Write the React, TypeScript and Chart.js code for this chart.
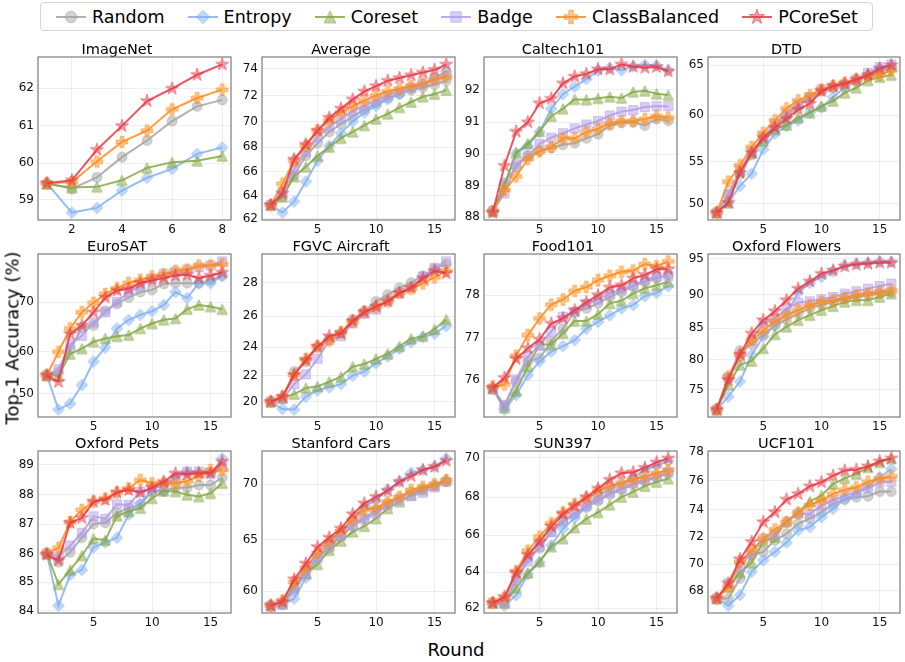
import React, { useEffect, useRef } from 'react';
import { Chart, registerables, LinearScale } from 'chart.js';

Chart.register(...registerables);

// Square ("power 2") value axis, as in the reference figure
class SquareScale extends LinearScale {
  static id = 'square';
  static defaults = {};
  getPixelForValue(value: any) {
    if (value === null || value === undefined || isNaN(value)) return NaN;
    const a = this.min * this.min;
    const b = this.max * this.max;
    return this.getPixelForDecimal((value * value - a) / (b - a));
  }
  getValueForPixel(pixel: number) {
    const a = this.min * this.min;
    const b = this.max * this.max;
    return Math.sqrt(a + this.getDecimalForPixel(pixel) * (b - a));
  }
}
Chart.register(SquareScale as any);

// ---------------- DATA ----------------
const METHODS = ['Random', 'Entropy', 'Coreset', 'Badge', 'ClassBalanced', 'PCoreSet'];
const ROUNDS_8 = [1, 2, 3, 4, 5, 6, 7, 8];
const ROUNDS_16 = [1, 2, 3, 4, 5, 6, 7, 8, 9, 10, 11, 12, 13, 14, 15, 16];
const XTICKS_8 = [2, 4, 6, 8];
const XTICKS_16 = [5, 10, 15];

// order of each list: Random, Entropy, Coreset, Badge, ClassBalanced, PCoreSet
const IMAGENET = [
  [59.45, 59.3, 59.61, 60.16, 60.61, 61.13, 61.52, 61.69],
  [59.45, 58.64, 58.77, 59.25, 59.6, 59.84, 60.25, 60.42],
  [59.43, 59.33, 59.35, 59.53, 59.87, 60.02, 60.06, 60.19],
  null,
  [59.45, 59.48, 60.04, 60.57, 60.87, 61.44, 61.74, 61.96],
  [59.45, 59.53, 60.36, 61.0, 61.66, 61.99, 62.35, 62.62],
];
const AVERAGE = [
  [63.2, 63.9, 65.7, 67.3, 68.3, 69.2, 69.8, 70.4, 70.9, 71.4, 71.8, 72.1, 72.4, 72.6, 72.8, 73.1],
  [63.2, 62.55, 63.5, 65.2, 66.9, 68.1, 69.1, 70.0, 70.7, 71.2, 71.7, 72.1, 72.5, 72.8, 73.3, 73.8],
  [63.2, 63.9, 65.6, 66.4, 67.3, 68.0, 68.7, 69.2, 69.7, 70.2, 70.6, 71.1, 71.5, 71.9, 72.1, 72.4],
  [63.2, 64.3, 66.2, 67.6, 68.8, 69.6, 70.2, 70.8, 71.2, 71.6, 72.0, 72.3, 72.6, 72.9, 73.2, 73.5],
  [63.2, 65.0, 66.9, 68.1, 69.3, 70.1, 70.7, 71.2, 71.6, 72.0, 72.3, 72.5, 72.7, 72.9, 73.2, 73.4],
  [63.2, 64.2, 67.0, 68.2, 69.3, 70.3, 71.0, 71.7, 72.3, 72.7, 73.1, 73.3, 73.5, 73.7, 73.9, 74.3],
];
const CALTECH101 = [
  [88.2, 89.1, 89.6, 89.95, 90.1, 90.2, 90.3, 90.35, 90.5, 90.63, 90.9, 90.98, 91.0, 90.9, 91.1, 91.05],
  [88.2, 89.05, 90.03, 90.26, 90.7, 91.42, 91.87, 92.1, 92.33, 92.59, 92.67, 92.6, 92.72, 92.77, 92.75, 92.6],
  [88.2, 89.0, 90.05, 90.34, 90.72, 91.19, 91.42, 91.71, 91.7, 91.74, 91.79, 91.75, 91.94, 91.97, 91.88, 91.84],
  [88.2, 88.76, 89.69, 89.95, 90.33, 90.52, 90.66, 90.81, 90.93, 91.04, 91.21, 91.33, 91.38, 91.47, 91.5, 91.5],
  [88.2, 88.87, 89.3, 89.85, 90.09, 90.23, 90.5, 90.5, 90.7, 90.8, 90.97, 91.03, 91.04, 91.1, 91.19, 91.15],
  [88.15, 89.64, 90.71, 91.0, 91.59, 91.73, 92.2, 92.41, 92.49, 92.63, 92.63, 92.78, 92.71, 92.68, 92.7, 92.57],
];
const DTD = [
  [48.85, 51.1, 53.51, 55.72, 57.45, 58.88, 59.92, 60.96, 61.8, 62.47, 62.8, 63.13, 63.46, 63.95, 64.44, 64.69],
  [48.85, 50.1, 52.14, 53.59, 56.35, 58.06, 58.88, 59.47, 60.27, 60.79, 61.87, 62.8, 63.53, 64.05, 64.69, 64.91],
  [48.85, 50.1, 53.9, 55.98, 57.27, 58.52, 58.98, 59.75, 60.27, 60.96, 61.47, 62.3, 62.8, 63.53, 63.85, 64.05],
  [48.85, 51.13, 54.09, 56.09, 57.7, 59.12, 60.17, 61.13, 61.87, 62.64, 62.87, 63.13, 63.62, 64.27, 64.82, 65.08],
  [48.85, 52.65, 54.55, 56.61, 58.16, 59.47, 60.72, 61.53, 62.07, 62.64, 62.97, 63.3, 63.62, 63.95, 64.05, 64.5],
  [48.85, 50.1, 53.7, 55.98, 57.63, 58.7, 59.65, 60.61, 61.19, 62.47, 62.97, 63.2, 63.62, 64.05, 64.69, 65.01],
];
const EUROSAT = [
  [54.6, 55.3, 60.6, 65.1, 65.5, 68.4, 69.7, 70.9, 71.9, 72.3, 73.4, 73.5, 73.5, 73.5, 74.0, 74.85],
  [54.6, 45.6, 47.3, 52.2, 57.8, 60.9, 64.9, 66.6, 67.6, 68.3, 69.5, 71.9, 70.8, 73.5, 73.5, 74.8],
  [54.6, 54.5, 59.5, 60.7, 62.15, 62.85, 63.3, 63.55, 64.9, 65.9, 66.65, 66.9, 68.7, 69.5, 69.2, 68.7],
  [54.6, 56.05, 61.65, 63.4, 66.1, 68.1, 70.1, 71.9, 72.95, 74.3, 75.1, 75.55, 75.9, 76.3, 76.6, 77.3],
  [54.6, 60.0, 64.9, 68.1, 69.9, 71.55, 72.6, 73.55, 74.1, 74.7, 75.1, 75.7, 75.9, 76.6, 76.6, 76.8],
  [54.6, 53.0, 63.8, 65.5, 68.1, 70.9, 72.2, 72.5, 73.55, 74.0, 74.4, 74.85, 75.0, 74.4, 74.85, 75.4],
];
const FGVC_AIRCRAFT = [
  [20.0, 20.3, 22.3, 23.0, 24.0, 24.5, 24.9, 25.8, 26.3, 26.9, 27.3, 27.7, 28.0, 28.4, 28.8, 29.05],
  [20.0, 19.4, 19.35, 20.4, 20.9, 21.12, 21.37, 22.0, 22.29, 22.9, 23.36, 23.89, 24.34, 24.67, 24.89, 25.38],
  [20.0, 20.3, 20.6, 21.07, 21.2, 21.55, 21.92, 22.65, 22.84, 23.2, 23.55, 24.05, 24.56, 24.73, 25.17, 25.8],
  [20.0, 20.2, 21.37, 22.1, 23.2, 24.45, 24.73, 25.55, 26.15, 26.4, 26.95, 27.4, 27.75, 28.34, 28.84, 29.2],
  [20.0, 20.4, 22.05, 23.2, 24.05, 24.45, 25.0, 25.65, 26.26, 26.55, 26.9, 27.4, 27.65, 27.96, 28.3, 28.67],
  [20.0, 20.4, 22.05, 23.1, 24.05, 24.73, 24.9, 25.7, 26.26, 26.6, 26.9, 27.4, 27.7, 28.25, 28.67, 28.54],
];
const FOOD101 = [
  [75.8, 75.4, 75.98, 76.45, 76.53, 76.92, 77.22, 77.61, 77.69, 77.81, 77.96, 78.08, 78.21, 78.31, 78.39, 78.47],
  [75.8, 75.3, 75.65, 76.12, 76.45, 76.68, 76.81, 76.95, 77.22, 77.38, 77.53, 77.69, 77.77, 77.98, 78.05, 78.21],
  [75.8, 75.35, 75.75, 76.33, 76.85, 76.85, 77.11, 77.4, 77.4, 77.56, 77.81, 77.87, 78.04, 78.16, 78.23, 78.31],
  [75.8, 75.4, 76.02, 76.57, 76.82, 77.15, 77.5, 77.61, 77.79, 77.9, 78.04, 78.13, 78.23, 78.35, 78.43, 78.44],
  [75.85, 75.9, 76.58, 77.07, 77.46, 77.78, 77.9, 78.1, 78.19, 78.35, 78.45, 78.54, 78.57, 78.72, 78.67, 78.78],
  [75.82, 76.06, 76.51, 76.76, 76.97, 77.34, 77.46, 77.65, 77.84, 78.0, 78.18, 78.23, 78.39, 78.47, 78.6, 78.6],
];
const OXFORD_FLOWERS = [
  [71.5, 77.0, 81.5, 82.5, 84.0, 85.4, 86.3, 87.2, 88.0, 88.5, 88.9, 89.3, 89.6, 89.9, 90.1, 90.3],
  [71.5, 73.8, 76.42, 80.8, 83.68, 85.46, 87.2, 90.26, 91.65, 92.48, 93.26, 94.1, 94.32, 94.46, 94.64, 94.55],
  [71.5, 75.85, 79.19, 79.83, 81.86, 84.04, 85.21, 86.21, 86.96, 87.7, 88.29, 88.92, 89.16, 89.16, 89.64, 90.12],
  [71.5, 77.15, 80.37, 83.16, 85.71, 86.46, 87.94, 88.82, 89.01, 89.3, 89.64, 90.12, 90.45, 90.83, 91.21, 91.54],
  [71.5, 77.26, 80.8, 83.16, 84.55, 86.06, 86.96, 87.7, 88.43, 88.92, 89.16, 89.5, 89.88, 90.12, 90.36, 90.6],
  [71.5, 76.7, 80.9, 84.19, 86.21, 87.55, 89.16, 90.83, 91.87, 92.94, 93.4, 93.96, 94.2, 94.32, 94.46, 94.46],
];
const OXFORD_PETS = [
  [86.0, 85.7, 86.04, 86.54, 87.01, 87.05, 87.38, 87.55, 87.66, 88.11, 88.13, 88.24, 88.24, 88.33, 88.33, 88.58],
  [86.0, 84.18, 85.26, 85.43, 86.21, 86.38, 86.54, 87.33, 87.72, 88.16, 88.13, 88.61, 88.78, 88.75, 88.69, 89.22],
  [86.0, 84.93, 85.43, 85.93, 86.51, 86.46, 87.29, 87.44, 87.55, 87.88, 88.13, 88.11, 88.0, 87.94, 88.05, 88.39],
  [86.0, 85.9, 86.27, 86.71, 87.27, 87.19, 87.68, 87.66, 88.1, 88.2, 88.33, 88.53, 88.78, 88.78, 88.75, 88.94],
  [86.0, 86.19, 87.08, 87.49, 87.77, 87.88, 88.08, 88.22, 88.5, 88.39, 88.39, 88.39, 88.46, 88.64, 88.83, 88.83],
  [85.96, 85.76, 87.05, 87.22, 87.77, 87.83, 88.08, 88.16, 88.08, 88.24, 88.44, 88.72, 88.69, 88.72, 88.72, 89.11],
];
const STANFORD_CARS = [
  [58.5, 58.8, 60.3, 62.0, 63.3, 64.2, 65.3, 66.3, 67.0, 67.7, 68.3, 68.8, 69.3, 69.6, 69.9, 70.2],
  [58.5, 58.6, 59.22, 61.34, 63.36, 64.57, 65.57, 66.79, 68.0, 68.59, 69.53, 70.2, 70.98, 71.21, 71.49, 72.2],
  [58.5, 58.7, 60.4, 61.74, 62.65, 64.0, 64.88, 65.72, 66.24, 66.94, 67.85, 68.45, 69.04, 69.53, 69.91, 70.43],
  [58.5, 58.6, 60.07, 61.74, 63.2, 64.31, 65.32, 66.34, 66.85, 67.4, 68.15, 68.59, 68.95, 69.24, 69.71, 70.2],
  [58.5, 59.05, 60.91, 62.33, 63.74, 64.79, 65.81, 66.85, 67.7, 67.91, 68.45, 68.89, 69.48, 69.77, 70.0, 70.35],
  [58.53, 58.88, 61.18, 62.72, 64.31, 65.19, 66.03, 67.34, 68.3, 68.89, 69.42, 70.2, 70.69, 71.21, 71.49, 72.0],
];
const SUN397 = [
  [62.3, 62.35, 63.7, 64.77, 65.3, 66.17, 66.69, 67.12, 67.46, 67.8, 68.13, 68.39, 68.64, 68.81, 69.01, 69.22],
  [62.3, 62.14, 62.73, 63.88, 64.54, 65.47, 66.34, 66.91, 67.5, 68.05, 68.44, 68.72, 69.01, 69.39, 69.6, 69.84],
  [62.3, 62.29, 63.15, 63.97, 64.59, 65.39, 65.82, 66.4, 66.86, 67.2, 67.6, 68.0, 68.27, 68.56, 68.77, 68.94],
  [62.3, 62.29, 63.52, 64.59, 65.39, 66.17, 66.81, 67.15, 67.55, 67.88, 68.22, 68.44, 68.72, 68.89, 69.06, 69.27],
  [62.29, 62.56, 64.06, 65.17, 65.93, 66.64, 67.2, 67.63, 67.93, 68.31, 68.56, 68.72, 68.89, 69.06, 69.22, 69.39],
  [62.29, 62.64, 63.97, 64.95, 65.65, 66.47, 67.12, 67.55, 68.0, 68.44, 68.89, 69.22, 69.27, 69.5, 69.77, 69.97],
];
const UCF101 = [
  [67.4, 67.4, 68.94, 70.68, 70.93, 71.78, 72.26, 72.98, 73.34, 73.81, 74.39, 74.7, 74.86, 74.93, 75.25, 75.25],
  [67.4, 66.84, 67.67, 69.44, 70.31, 70.93, 71.61, 72.5, 72.74, 73.45, 74.04, 74.73, 75.09, 75.62, 76.24, 76.81],
  [67.4, 68.3, 69.39, 70.14, 71.71, 72.02, 73.15, 73.81, 74.56, 74.98, 75.78, 76.17, 76.47, 76.92, 77.26, 77.53],
  [67.4, 68.56, 69.81, 70.88, 71.9, 72.26, 73.1, 73.69, 73.69, 74.28, 74.63, 74.98, 75.21, 75.48, 75.9, 75.94],
  [67.4, 68.3, 70.19, 71.05, 71.9, 72.57, 73.1, 73.76, 74.32, 74.63, 75.09, 75.39, 75.55, 75.94, 76.13, 76.31],
  [67.41, 68.56, 70.38, 71.66, 73.1, 73.81, 74.7, 75.09, 75.62, 75.9, 76.35, 76.7, 76.76, 76.99, 77.33, 77.53],
];

const TITLES = ['ImageNet', 'Average', 'Caltech101', 'DTD', 'EuroSAT', 'FGVC Aircraft', 'Food101', 'Oxford Flowers', 'Oxford Pets', 'Stanford Cars', 'SUN397', 'UCF101'];
const VALUES = [IMAGENET, AVERAGE, CALTECH101, DTD, EUROSAT, FGVC_AIRCRAFT, FOOD101, OXFORD_FLOWERS, OXFORD_PETS, STANFORD_CARS, SUN397, UCF101];
const Y_TICKS = [
  [59, 60, 61, 62],
  [62, 64, 66, 68, 70, 72, 74],
  [88, 89, 90, 91, 92],
  [50, 55, 60, 65],
  [50, 60, 70],
  [20, 22, 24, 26, 28],
  [76, 77, 78],
  [75, 80, 85, 90, 95],
  [84, 85, 86, 87, 88, 89],
  [60, 65, 70],
  [62, 64, 66, 68, 70],
  [68, 70, 72, 74, 76, 78],
];

// ---------------- STYLE ----------------
const COLORS = ['#a3a3a3', '#84b2f2', '#86a845', '#b29de8', '#ff8c1a', '#e63a45'];
const SHAPES = ['circle', 'diamond', 'triangle', 'square', 'plus', 'star'];
const FONT = "'DejaVu Sans', 'Liberation Sans', sans-serif";

const COL_LEFT = [38, 262, 484, 708];
const COL_W = [194, 194, 194, 193];
const ROW_TOP = [57, 254, 451];
const ROW_H = [163, 163, 162];
const YAXIS_W = 36;
const TITLE_H = 20;
const TITLE_SIZE = 14.5;
const TITLE_LH = 0.9;
const XAXIS_H = 18;
const RIGHT_PAD = 6;
const MARK_K = 1.07;

function rgba(hex: string, a: number) {
  const n = parseInt(hex.slice(1), 16);
  return `rgba(${(n >> 16) & 255},${(n >> 8) & 255},${n & 255},${a})`;
}

function traceShape(ctx: CanvasRenderingContext2D, shape: string, cx: number, cy: number, k: number) {
  ctx.beginPath();
  if (shape === 'circle') {
    ctx.arc(cx, cy, 4.6 * k, 0, Math.PI * 2);
  } else if (shape === 'diamond') {
    const r = 5.4 * k;
    ctx.moveTo(cx, cy - r); ctx.lineTo(cx + r, cy); ctx.lineTo(cx, cy + r); ctx.lineTo(cx - r, cy);
    ctx.closePath();
  } else if (shape === 'triangle') {
    const s = 4.8 * k;
    ctx.moveTo(cx, cy - s); ctx.lineTo(cx + s, cy + s); ctx.lineTo(cx - s, cy + s);
    ctx.closePath();
  } else if (shape === 'square') {
    const h = 4.2 * k;
    ctx.rect(cx - h, cy - h, 2 * h, 2 * h);
  } else if (shape === 'plus') {
    const w = 5.4 * k, t = w / 3;
    ctx.moveTo(cx - t, cy - w); ctx.lineTo(cx + t, cy - w); ctx.lineTo(cx + t, cy - t);
    ctx.lineTo(cx + w, cy - t); ctx.lineTo(cx + w, cy + t); ctx.lineTo(cx + t, cy + t);
    ctx.lineTo(cx + t, cy + w); ctx.lineTo(cx - t, cy + w); ctx.lineTo(cx - t, cy + t);
    ctx.lineTo(cx - w, cy + t); ctx.lineTo(cx - w, cy - t); ctx.lineTo(cx - t, cy - t);
    ctx.closePath();
  } else {
    const R = 6.4 * k, r = R * 0.382;
    for (let i = 0; i < 10; i++) {
      const ang = -Math.PI / 2 + (i * Math.PI) / 5;
      const rad = i % 2 === 0 ? R : r;
      const x = cx + rad * Math.cos(ang), y = cy + rad * Math.sin(ang);
      if (i === 0) ctx.moveTo(x, y); else ctx.lineTo(x, y);
    }
    ctx.closePath();
  }
}

function paintMarker(ctx: CanvasRenderingContext2D, i: number, cx: number, cy: number, k: number) {
  traceShape(ctx, SHAPES[i], cx, cy, k);
  ctx.fillStyle = rgba(COLORS[i], 0.5);
  ctx.fill();
  ctx.strokeStyle = rgba(COLORS[i], 0.55);
  ctx.lineWidth = 1;
  ctx.stroke();
}

function makeMarker(i: number) {
  const size = 18;
  const c = document.createElement('canvas');
  c.width = size; c.height = size;
  const ctx = c.getContext('2d')!;
  paintMarker(ctx, i, size / 2, size / 2, MARK_K);
  return c;
}

const framePlugin = {
  id: 'frame',
  afterDatasetsDraw(chart: any) {
    const { ctx, chartArea: a } = chart;
    ctx.save();
    ctx.strokeStyle = '#7c7c7c';
    ctx.lineWidth = 1.2;
    ctx.strokeRect(a.left, a.top, a.right - a.left, a.bottom - a.top);
    ctx.restore();
  },
};

function squareLimits(vals: number[]) {
  const lo = Math.min(...vals), hi = Math.max(...vals);
  const a = lo * lo, b = hi * hi, m = (b - a) * 0.05;
  return [Math.sqrt(a - m), Math.sqrt(b + m)];
}

function Panel({ idx }: { idx: number }) {
  const ref = useRef<HTMLCanvasElement>(null);
  const r = Math.floor(idx / 4), c = idx % 4;
  const W = YAXIS_W + COL_W[c] + RIGHT_PAD;
  const H = TITLE_H + ROW_H[r] + XAXIS_H;
  useEffect(() => {
    const series = VALUES[idx];
    const xs = idx === 0 ? ROUNDS_8 : ROUNDS_16;
    const xTicks = idx === 0 ? XTICKS_8 : XTICKS_16;
    const xSpan = xs[xs.length - 1] - xs[0];
    const all: number[] = [];
    series.forEach((s) => s && all.push(...s));
    const [yMin, yMax] = squareLimits(all);
    const datasets: any[] = [];
    series.forEach((s, i) => {
      if (!s) return;
      datasets.push({
        label: METHODS[i],
        data: s.map((v, k) => ({ x: xs[k], y: v })),
        borderColor: rgba(COLORS[i], 0.85),
        backgroundColor: rgba(COLORS[i], 0.5),
        borderWidth: 2,
        pointStyle: makeMarker(i),
        pointRadius: 5,
        pointHoverRadius: 5,
        tension: 0,
        fill: false,
        order: 5 - i,
      });
    });
    const tickFont = { family: FONT, size: 12 };
    const titleLine = TITLE_SIZE * TITLE_LH;
    const chart = new Chart(ref.current!, {
      type: 'line',
      data: { datasets },
      options: {
        animation: false,
        responsive: false,
        events: [],
        layout: { padding: { left: 0, right: RIGHT_PAD, top: 0, bottom: 0 } },
        plugins: {
          legend: { display: false },
          tooltip: { enabled: false },
          title: {
            display: true,
            text: TITLES[idx],
            color: '#000',
            font: { family: FONT, size: TITLE_SIZE, weight: 'normal', lineHeight: TITLE_LH },
            padding: { top: TITLE_H - titleLine - 0.2, bottom: 0.2 },
          },
        },
        scales: {
          x: {
            type: 'linear',
            min: xs[0] - xSpan * 0.05,
            max: xs[xs.length - 1] + xSpan * 0.05,
            afterBuildTicks: (s: any) => { s.ticks = xTicks.map((v) => ({ value: v })); },
            afterFit: (s: any) => { s.height = XAXIS_H; },
            grid: { color: 'rgba(0,0,0,0.085)', lineWidth: 0.8, drawTicks: false },
            border: { display: false },
            ticks: { font: tickFont, color: '#111', padding: 3, maxRotation: 0, autoSkip: false },
          },
          y: {
            type: 'square' as any,
            min: yMin,
            max: yMax,
            afterBuildTicks: (s: any) => { s.ticks = Y_TICKS[idx].filter((v) => v >= yMin && v <= yMax).map((v) => ({ value: v })); },
            afterFit: (s: any) => { s.width = YAXIS_W; },
            grid: { color: 'rgba(0,0,0,0.085)', lineWidth: 0.8, drawTicks: false },
            border: { display: false },
            ticks: { font: tickFont, color: '#111', padding: 4, autoSkip: false, callback: (v: any) => String(v) },
          },
        },
      } as any,
      plugins: [framePlugin],
    });
    return () => chart.destroy();
  }, [idx]);
  return (
    <canvas
      ref={ref}
      width={W}
      height={H}
      style={{ position: 'absolute', left: COL_LEFT[c] - YAXIS_W, top: ROW_TOP[r] - TITLE_H, width: W, height: H }}
    />
  );
}

function LegendIcon({ i }: { i: number }) {
  const ref = useRef<HTMLCanvasElement>(null);
  useEffect(() => {
    const cv = ref.current!;
    const ctx = cv.getContext('2d')!;
    ctx.clearRect(0, 0, cv.width, cv.height);
    ctx.strokeStyle = rgba(COLORS[i], 0.85);
    ctx.lineWidth = 2;
    ctx.beginPath();
    ctx.moveTo(1, 11); ctx.lineTo(31, 11);
    ctx.stroke();
    paintMarker(ctx, i, 16, 11, 1.25);
  }, [i]);
  return <canvas ref={ref} width={32} height={22} style={{ width: 32, height: 22, display: 'block' }} />;
}

export default function App() {
  return (
    <div style={{ position: 'absolute', left: 0, top: 0, width: 905, height: 662, background: '#fff', fontFamily: FONT, color: '#000', overflow: 'hidden' }}>
      <div
        style={{
          position: 'absolute', left: 40, top: 2, width: 833, height: 29, boxSizing: 'border-box',
          border: '1px solid #d4d4d4', borderRadius: 4, display: 'flex', alignItems: 'center',
          justifyContent: 'space-between', padding: '0 14px',
        }}
      >
        {METHODS.map((m, i) => (
          <div key={m} style={{ display: 'flex', alignItems: 'center' }}>
            <LegendIcon i={i} />
            <span style={{ fontSize: 17.5, marginLeft: 5, lineHeight: '20px' }}>{m}</span>
          </div>
        ))}
      </div>
      {TITLES.map((t, i) => <Panel key={t} idx={i} />)}
      <div style={{ position: 'absolute', left: 12, top: 338, transform: 'translate(-50%, -50%) rotate(-90deg)', fontSize: 18, whiteSpace: 'nowrap' }}>
        Top-1 Accuracy (%)
      </div>
      <div style={{ position: 'absolute', left: 456, top: 649, transform: 'translate(-50%, -50%)', fontSize: 18, whiteSpace: 'nowrap' }}>
        Round
      </div>
    </div>
  );
}
